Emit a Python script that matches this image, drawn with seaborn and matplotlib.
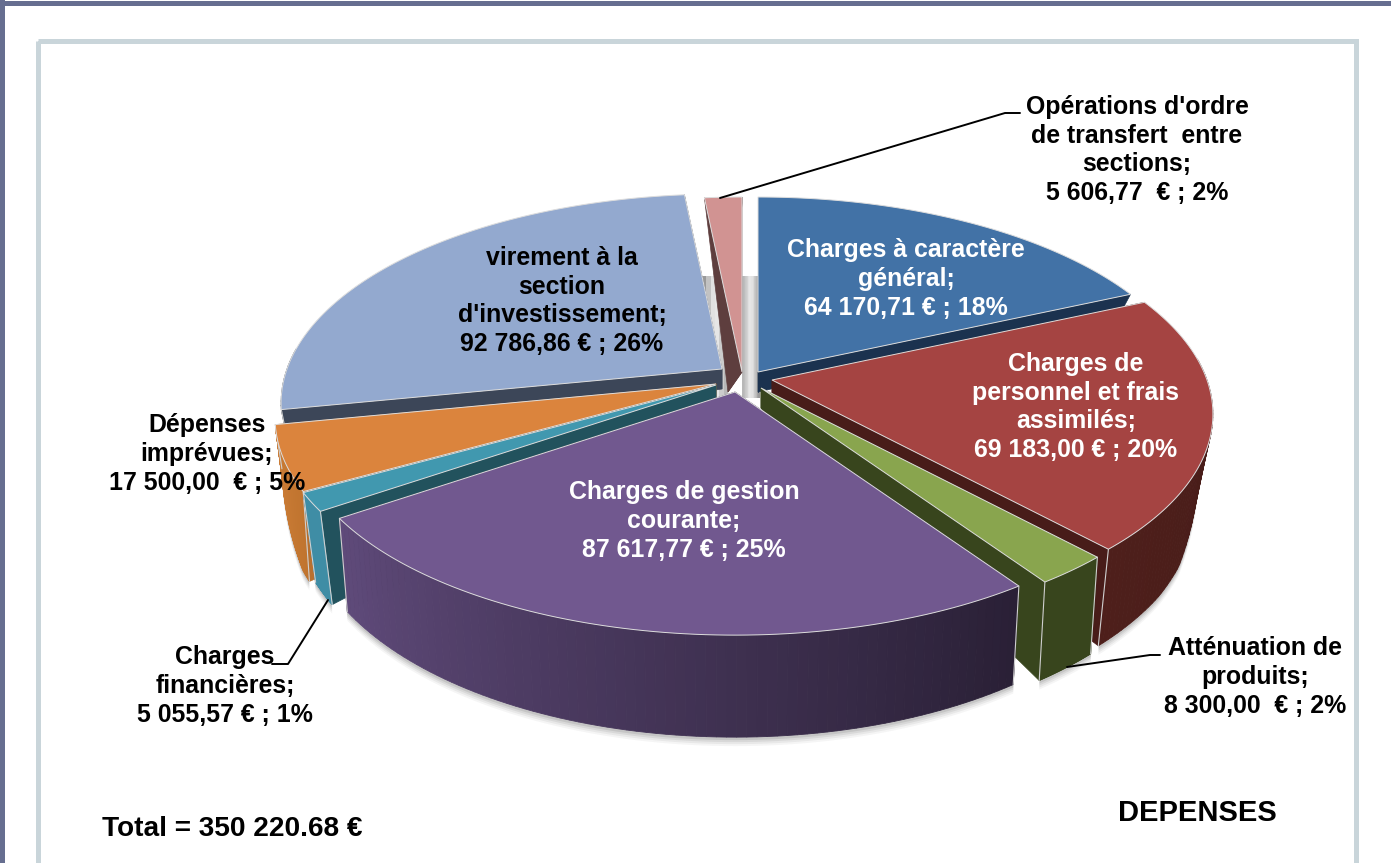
import numpy as np
import matplotlib
matplotlib.use("Agg")
import matplotlib.pyplot as plt
from matplotlib.patches import Rectangle
import seaborn as sns

# ===== data =====
names = [
    "Charges à caractère\ngénéral",
    "Charges de\npersonnel et frais\nassimilés",
    "Atténuation de\nproduits",
    "Charges de gestion\ncourante",
    "Charges\nfinancières",
    "Dépenses\nimprévues",
    "virement à la\nsection\nd'investissement",
    "Opérations d'ordre\nde transfert  entre\nsections",
]
values = [64170.71, 69183.00, 8300.00, 87617.77, 5055.57, 17500.00, 92786.86, 5606.77]
euro_gap = [" ", " ", "  ", " ", " ", "  ", " ", "  "]
total_label = "Total = 350 220.68 €"
side_label = "DEPENSES"

# ===== style per slice =====
top_colors = ["#4272a6", "#a54442", "#89a54e", "#71588f", "#4198af", "#db843d", "#93a9cf", "#d19392"]
wall_colors = [("#1b324f", "#1b324f"), ("#4e1f1b", "#431a17"), ("#38451d", "#38451d"),
               ("#5f4a7a", "#2a2036"), ("#3f8da5", "#3f8da5"), ("#cf7f38", "#c0742f"),
               ("#3c4658", "#3c4658"), ("#5e3e3e", "#5e3e3e")]
cut_colors = ["#1b324f", "#481c19", "#38451d", "#2a2036", "#22525d", "#b8702f", "#3c4658", "#5e3e3e"]
apexes = [(758, 372), (772, 380), (761, 388), (735, 392), (716, 385), (716, 384), (722, 369), (742, 372)]
shrink = [0.98, 0.97, 0.98, 0.98, 0.97, 0.985, 0.98, 0.98]
apex_low_dx = [0, 0, 0, 0, 0, 0, 0, -14]
draw_order = [7, 0, 6, 1, 5, 2, 4, 3]
text_colors = ["white", "white", "black", "white", "black", "black", "black", "black"]
text_pos = [(906, 279), (1076, 407), (1255, 677), (684, 521), (225, 686), (207, 454), (562, 301), (1137, 150)]

# perspective of the disc
R, K, P = 435, 203.5, 0.163
depth_v = [-1, -0.8, -0.55, -0.45, -0.2, 0, 0.4, 1]
depth_d = [102, 98, 93, 88, 45, 20, 14, 6]


def project(theta, apex):
    t = np.radians(theta)
    u, v = np.cos(t), np.sin(t)
    s = 1 / (1 + P * v)
    return apex[0] + R * u * s, apex[1] - K * v * s, v


def lower(x, y, v, apex, k):
    return apex[0] + (x - apex[0]) * k, y + np.interp(v, depth_v, depth_d)


sns.set_theme(style="white")
plt.rcParams["font.family"] = ["Liberation Sans", "DejaVu Sans"]

fig, ax = plt.subplots(figsize=(13.91, 8.63), dpi=100)
fig.subplots_adjust(left=0, right=1, bottom=0, top=1)

# angles come from the pie itself, the wedges are then redrawn in perspective
wedges, _ = ax.pie(values, startangle=90, counterclock=False)
angles = [(w.theta1, w.theta2) for w in wedges]
for w in wedges:
    w.remove()

# grey inner columns
grad = np.array([[0.72, 0.80, 0.90, 0.88, 0.76, 0.60]])
ax.imshow(grad, extent=(742, 760, 398, 276), cmap="gray", vmin=0, vmax=1, aspect="auto", zorder=1)
ax.imshow(grad[:, ::-1], extent=(702, 728, 398, 276), cmap="gray", vmin=0, vmax=1, aspect="auto", zorder=1)

zo = 2
# soft shadow under the front of the pie
for i in draw_order:
    a1, a2 = angles[i]
    th = np.linspace(a1, a2, 80)
    x, y, v = project(th, apexes[i])
    bx, by = lower(x, y, v, apexes[i], shrink[i])
    for off, alpha in zip([9, 7, 5, 3], [0.05, 0.07, 0.09, 0.12]):
        mask = v < -0.25
        if mask.sum() > 1:
            ax.fill(np.r_[x[mask], bx[mask][::-1]], np.r_[y[mask], (by[mask] + off)[::-1]],
                    color="#404040", alpha=alpha, lw=0, zorder=zo)

zo = 3
for i in draw_order:
    a1, a2 = angles[i]
    apex = apexes[i]
    th = np.linspace(a1, a2, 80)
    x, y, v = project(th, apex)
    bx, by = lower(x, y, v, apex, shrink[i])
    ab = (apex[0] + apex_low_dx[i], apex[1] + np.interp(0, depth_v, depth_d))

    # cut faces, from the centre out to both corners
    for j in (0, -1):
        ax.fill([apex[0], x[j], bx[j], ab[0]], [apex[1], y[j], by[j], ab[1]],
                facecolor=cut_colors[i], edgecolor=cut_colors[i], lw=0.5, zorder=zo)

    # outer wall, segment by segment for the shading
    shades = sns.blend_palette(list(wall_colors[i]), len(th) - 1)
    for k, c in enumerate(shades):
        if v[k] < 0.1 or v[k + 1] < 0.1:
            ax.fill([x[k], x[k + 1], bx[k + 1], bx[k]], [y[k], y[k + 1], by[k + 1], by[k]],
                    facecolor=c, edgecolor=c, lw=0.6, zorder=zo)

    # light edge on the corners that face the viewer
    for j in (0, -1):
        if v[j] < -0.1:
            ax.plot([x[j], bx[j]], [y[j], by[j]], color="#cfcfcf", lw=0.8, zorder=zo + 0.1)

    # top face
    ax.fill(np.r_[apex[0], x], np.r_[apex[1], y], facecolor=top_colors[i],
            edgecolor="#dddddd", lw=0.7, zorder=zo + 0.2)
    zo += 1

# ===== leader lines =====
lead_x = [[720, 1005, 1020], [1067, 1150, 1160], [328, 288, 272]]
lead_y = [[198, 113, 113], [667, 655, 655], [600, 664, 664]]
for lx, ly in zip(lead_x, lead_y):
    ax.plot(lx, ly, color="black", lw=1.4, zorder=30)

# ===== labels =====
share = np.array(values) / sum(values) * 100
for i, name in enumerate(names):
    amount = f"{values[i]:,.2f}".replace(",", " ").replace(".", ",")
    label = f"{name};\n{amount}{euro_gap[i]}€ ; {share[i]:.0f}%"
    ax.text(text_pos[i][0], text_pos[i][1], label, ha="center", va="center", color=text_colors[i],
            fontsize=17.9, fontweight="bold", linespacing=1.26, zorder=40)

ax.text(102, 829, total_label, ha="left", va="center", color="black", fontsize=20.2, fontweight="bold", zorder=40)
ax.text(1197, 813, side_label, ha="center", va="center", color="black", fontsize=21, fontweight="bold", zorder=40)

# ===== frames =====
ax.add_patch(Rectangle((37.5, 41.5), 1318, 900, fill=False, edgecolor="#c9d5da", lw=3.6, zorder=50))
ax.add_patch(Rectangle((0, 1), 1391, 5, facecolor="#666e90", edgecolor="none", zorder=51))
ax.add_patch(Rectangle((0, 0), 5, 863, facecolor="#666e90", edgecolor="none", zorder=51))

ax.set_aspect("auto")
ax.set(xlim=(0, 1391), ylim=(863, 0), xticks=[], yticks=[])
ax.set_frame_on(False)

fig.savefig("out.png", dpi=100)
